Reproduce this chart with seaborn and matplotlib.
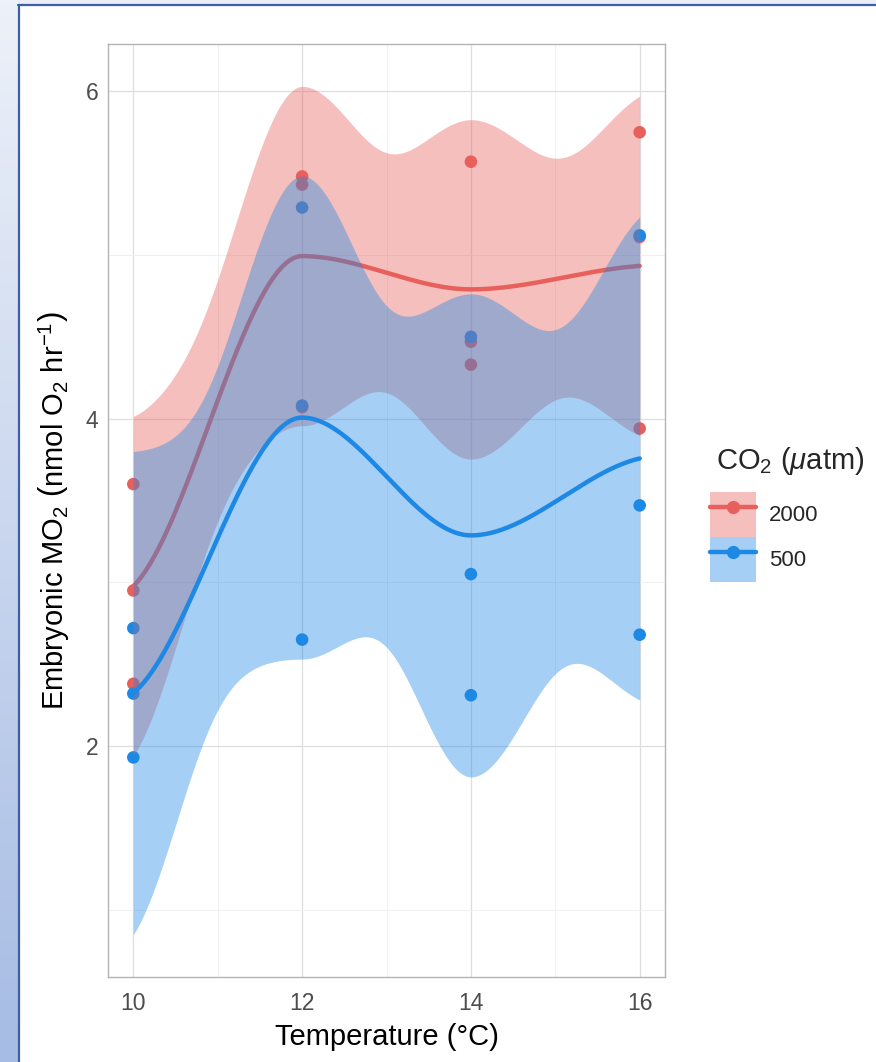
import numpy as np
import pandas as pd
import matplotlib
matplotlib.use("Agg")
import matplotlib.pyplot as plt
import seaborn as sns
from matplotlib.patches import Patch, Rectangle
from matplotlib.lines import Line2D
from matplotlib.colors import LinearSegmentedColormap

# ---------------- data ----------------
temperature = [10, 10, 10, 12, 12, 12, 14, 14, 14, 16, 16, 16]
mo2_2000 = [3.60, 2.95, 2.38, 5.48, 5.43, 4.07, 5.57, 4.47, 4.33, 5.75, 5.11, 3.94]
mo2_500 = [2.72, 2.32, 1.93, 5.29, 4.08, 2.65, 4.50, 3.05, 2.31, 5.12, 3.47, 2.68]
co2_levels = ["2000", "500"]
series = {"2000": mo2_2000, "500": mo2_500}
colors = {"2000": "#E8605C", "500": "#1E88E5"}
x_ticks = [10, 12, 14, 16]
x_minor = [11, 13, 15]
y_ticks = [2, 4, 6]
y_minor = [1, 3, 5]
T_CRIT = 2.36  # t quantile used for the 95% band

# ---------------- loess-style smoother (vertices at unique x, Hermite interpolation) ----
def smooth(x, y, grid):
    x = np.asarray(x, float)
    y = np.asarray(y, float)
    verts = np.unique(x)
    V = np.array([(x == v).astype(float) / np.sum(x == v) for v in verts])
    D = np.zeros_like(V)
    D[0] = (V[1] - V[0]) / (2 * (verts[1] - verts[0]))
    D[-1] = (V[-1] - V[-2]) / (2 * (verts[-1] - verts[-2]))
    rows = []
    for g in grid:
        i = min(np.searchsorted(verts, g, side="right") - 1, len(verts) - 2)
        h = verts[i + 1] - verts[i]
        s = (g - verts[i]) / h
        h00 = 2 * s**3 - 3 * s**2 + 1
        h10 = s**3 - 2 * s**2 + s
        h01 = -2 * s**3 + 3 * s**2
        h11 = s**3 - s**2
        rows.append(h00 * V[i] + h10 * h * D[i] + h01 * V[i + 1] + h11 * h * D[i + 1])
    L = np.array(rows)
    fit = L @ y
    Ld = np.array([V[np.searchsorted(verts, xi)] for xi in x])
    R = np.eye(len(x)) - Ld
    one_delta = np.trace(R.T @ R)
    sigma = np.sqrt(np.sum((R @ y) ** 2) / one_delta)
    se = sigma * np.sqrt(np.sum(L**2, axis=1))
    return fit, fit - T_CRIT * se, fit + T_CRIT * se

grid = np.linspace(min(temperature), max(temperature), 240)
fits = {k: smooth(temperature, series[k], grid) for k in co2_levels}

points = pd.DataFrame({
    "Temperature": temperature * len(co2_levels),
    "MO2": mo2_2000 + mo2_500,
    "CO2": [k for k in co2_levels for _ in temperature],
})

# ---------------- style ----------------
sns.set_theme(style="white")
plt.rcParams["font.family"] = ["Liberation Sans", "DejaVu Sans"]
plt.rcParams["mathtext.fontset"] = "custom"
plt.rcParams["mathtext.rm"] = "Liberation Sans"
plt.rcParams["mathtext.it"] = "Liberation Sans:italic"
plt.rcParams["mathtext.bf"] = "Liberation Sans:bold"

W, H = 876, 1062
fig = plt.figure(figsize=(W / 100, H / 100), dpi=100)
fig.patch.set_facecolor("white")

# slide-like frame on the left / top
bg = fig.add_axes([0, 0, 18 / W, 1])
bg.imshow(np.linspace(0, 1, 256)[:, None], aspect="auto", origin="upper",
          cmap=LinearSegmentedColormap.from_list("g", ["#EDF1F9", "#A6BCE4"]),
          extent=[0, 1, 0, 1])
bg.axis("off")
fig.add_artist(Rectangle((18 / W, 1 - 4 / H), 1, 4 / H, transform=fig.transFigure,
                         facecolor="#E9EEF7", edgecolor="none"))
fig.add_artist(Line2D([18.5 / W, 18.5 / W], [0, 1 - 4.5 / H], transform=fig.transFigure,
                      color="#3E5EA8", lw=1.6))
fig.add_artist(Line2D([18 / W, 1], [1 - 4.5 / H, 1 - 4.5 / H], transform=fig.transFigure,
                      color="#3E5EA8", lw=1.6))

ax = fig.add_axes([108 / W, 1 - 977 / H, 557 / W, 933 / H])
ax.set_facecolor("white")

# points layer first (as in ggplot: geom_point, then geom_smooth on top)
sns.scatterplot(data=points, x="Temperature", y="MO2", hue="CO2", palette=colors,
                hue_order=co2_levels, s=82, edgecolor="none", ax=ax, legend=False, zorder=2)

z = 3
for k in co2_levels:
    c = colors[k]
    fit, lo, hi = fits[k]
    ax.fill_between(grid, lo, hi, color=c, alpha=0.4, linewidth=0, zorder=z)
    sns.lineplot(x=grid, y=fit, color=c, linewidth=3.2, ax=ax, legend=False, zorder=z + 1)
    z += 2

# limits with ggplot-style 5% expansion
ymin = min(min(fits[k][1].min(), min(series[k])) for k in co2_levels)
ymax = max(max(fits[k][2].max(), max(series[k])) for k in co2_levels)
yr = ymax - ymin
ax.set_ylim(ymin - 0.05 * yr, ymax + 0.05 * yr)
xr = max(temperature) - min(temperature)
ax.set_xlim(min(temperature) - 0.05 * xr, max(temperature) + 0.05 * xr)

ax.set_xticks(x_ticks)
ax.set_xticks(x_minor, minor=True)
ax.set_yticks(y_ticks)
ax.set_yticks(y_minor, minor=True)
ax.set_xticklabels([str(t) for t in x_ticks])
ax.set_yticklabels([str(t) for t in y_ticks])
ax.grid(True, which="major", color="#DEDEDE", linewidth=0.9)
ax.grid(True, which="minor", color="#EEEEEE", linewidth=0.6)
ax.set_axisbelow(True)
ax.tick_params(axis="both", which="major", length=5, width=0.8, color="#B3B3B3",
               labelsize=16.5, labelcolor="#4D4D4D", direction="out")
ax.tick_params(axis="x", which="major", pad=6)
ax.tick_params(axis="y", which="major", pad=2)
ax.tick_params(axis="both", which="minor", length=0)
for sp in ax.spines.values():
    sp.set_color("#B3B3B3")
    sp.set_linewidth(1.0)

ax.set_xlabel("Temperature (°C)", fontsize=21, color="black")
ax.set_ylabel(r"Embryonic MO$_2$ $\left(\mathrm{nmol\ O_2\ hr^{-1}}\right)$", fontsize=21, color="black")
ax.xaxis.set_label_coords(0.5, -0.049)
ax.yaxis.set_label_coords(-0.064, 0.5)

# legend: title as text, keys = ribbon fill + line + point
fig.text(716 / W, 1 - 461 / H, r"CO$_2$ ($\mu$atm)", fontsize=21, ha="left", va="center")
handles = [(Patch(facecolor=colors[k], alpha=0.4, edgecolor="none"),
            Line2D([], [], color=colors[k], lw=3.2, marker="o", markersize=8.5))
           for k in co2_levels]
leg = fig.legend(handles, co2_levels,
                 loc="upper left", bbox_to_anchor=(699 / W, 1 - 481 / H),
                 frameon=False, fontsize=16,
                 handlelength=2.05, handleheight=2.75, labelspacing=0.0,
                 handletextpad=0.6, borderpad=0)

fig.savefig("out.png", dpi=100, facecolor="white")
